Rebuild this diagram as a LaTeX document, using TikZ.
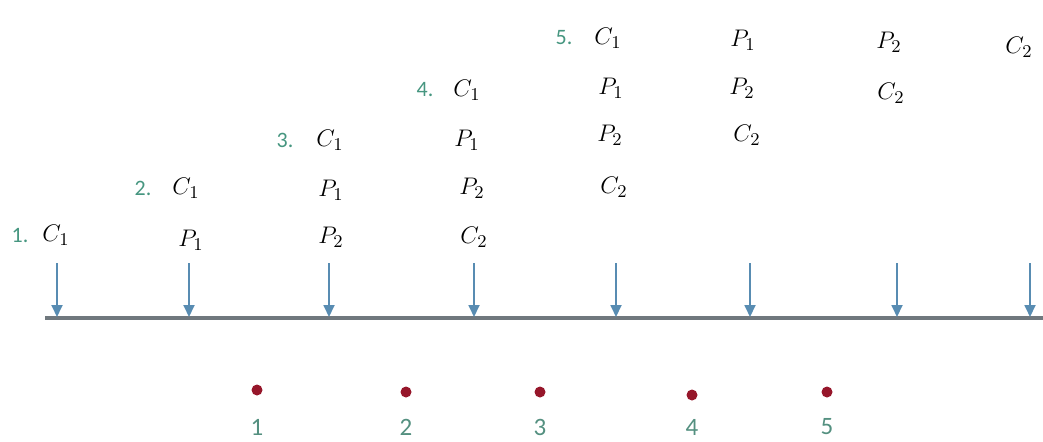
\documentclass[tikz,border=0pt]{standalone}
\usepackage{fontspec}
\setsansfont{Carlito}
\usetikzlibrary{arrows.meta}
\definecolor{axisgray}{RGB}{112,120,126}
\definecolor{arrowblue}{RGB}{88,140,178}
\definecolor{stepgreen}{RGB}{70,150,128}
\definecolor{dotred}{RGB}{150,22,42}
\tikzset{
  lbl/.style={font=\fontsize{13}{15}\selectfont, inner sep=0pt},
  stepnum/.style={font=\sffamily\fontsize{11}{13}\selectfont, text=stepgreen, inner sep=0pt},
  pointnum/.style={font=\sffamily\fontsize{12.5}{14}\selectfont, text=stepgreen!75!gray, inner sep=0pt},
  dot/.style={circle, fill=dotred, inner sep=0pt, minimum size=5.5pt},
  tick/.style={draw=arrowblue, line width=0.9pt, -{Triangle[width=5.5pt,length=6pt]}},
  axis/.style={draw=axisgray, line width=1.6pt}
}
\begin{document}
\begin{tikzpicture}[x=0.5pt, y=-0.5pt]
\useasboundingbox (0,0) rectangle (1043,441);

% time axis
\coordinate (axL) at (45,318);
\coordinate (axR) at (1043,318);
\draw[axis] (axL) -- (axR);

% arrows onto the axis
\foreach \i/\x in {1/57,2/189,3/329,4/474,5/616,6/750,7/897,8/1030}{
  \coordinate (top\i) at (\x,263);
  \coordinate (hit\i) at (\x,317);
  \draw[tick] (top\i) -- (hit\i);
}

% column 1
\node[stepnum] (s1) at (20,235) {1.};
\node[lbl] (a1) at (56,235) {$C_1$};
% column 2
\node[stepnum] (s2) at (143,188) {2.};
\node[lbl] (b1) at (186,188) {$C_1$};
\node[lbl] (b2) at (191,240) {$P_1$};
% column 3
\node[stepnum] (s3) at (285,140) {3.};
\node[lbl] (c1) at (330,140) {$C_1$};
\node[lbl] (c2) at (331,190) {$P_1$};
\node[lbl] (c3) at (331,237) {$P_2$};
% column 4
\node[stepnum] (s4) at (425,90) {4.};
\node[lbl] (d1) at (467,90) {$C_1$};
\node[lbl] (d2) at (467,140) {$P_1$};
\node[lbl] (d3) at (472,188) {$P_2$};
\node[lbl] (d4) at (474,237) {$C_2$};
% column 5
\node[stepnum] (s5) at (564,38) {5.};
\node[lbl] (e1) at (608,38) {$C_1$};
\node[lbl] (e2) at (611,88) {$P_1$};
\node[lbl] (e3) at (610,135) {$P_2$};
\node[lbl] (e4) at (614,187) {$C_2$};
% column 6
\node[lbl] (f1) at (743,40) {$P_1$};
\node[lbl] (f2) at (742,88) {$P_2$};
\node[lbl] (f3) at (747,135) {$C_2$};
% column 7
\node[lbl] (g1) at (889,42) {$P_2$};
\node[lbl] (g2) at (891,93) {$C_2$};
% column 8
\node[lbl] (h1) at (1019,47) {$C_2$};

% points below the axis
\foreach \i/\x/\y in {1/257/390,2/406/392,3/540/392,4/692/395,5/827/392}{
  \node[dot] (p\i) at (\x,\y) {};
  \node[pointnum] (n\i) at (\x,427) {\i};
}
\end{tikzpicture}
\end{document}
